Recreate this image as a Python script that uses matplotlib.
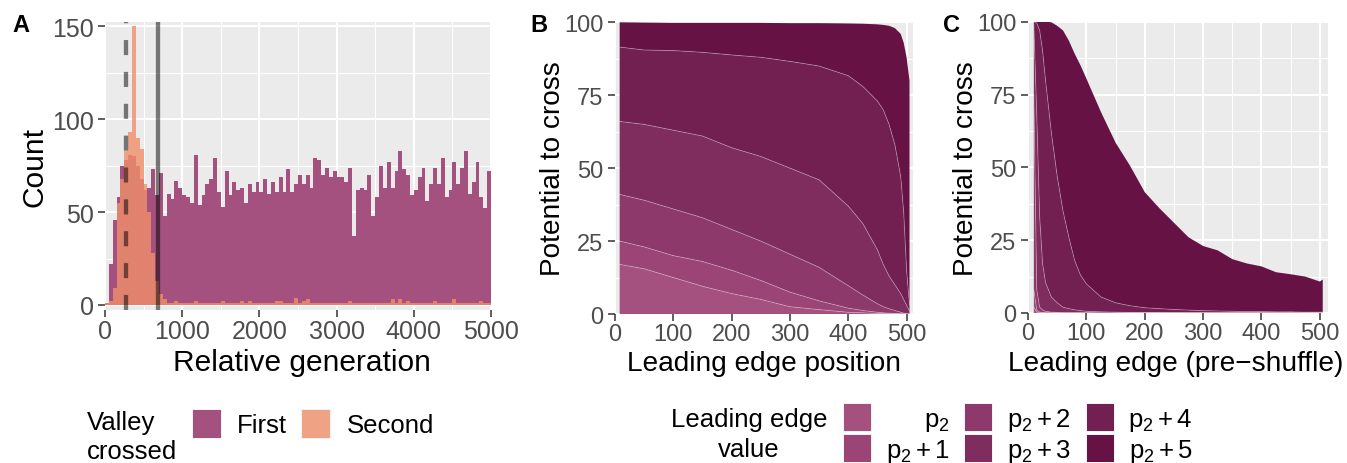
import numpy as np
import matplotlib
matplotlib.use("Agg")
import matplotlib.pyplot as plt
from matplotlib.patches import Rectangle
from matplotlib.ticker import MultipleLocator

plt.rcParams["font.family"] = ["Liberation Sans", "DejaVu Sans"]
plt.rcParams["mathtext.fontset"] = "custom"
plt.rcParams["mathtext.rm"] = "Liberation Sans"
plt.rcParams["mathtext.it"] = "Liberation Sans:italic"
plt.rcParams["mathtext.bf"] = "Liberation Sans:bold"

W, H, DPI = 1347, 464, 100

# ---------------- Panel A: generation at which each valley was crossed ----------------
bin_width = 50
first_counts = [1, 22, 46, 58, 75, 78, 81, 80, 75, 68,
                62, 63, 73, 59, 71, 48, 60, 57, 67, 63,
                59, 58, 55, 81, 54, 59, 65, 68, 79, 61,
                53, 72, 59, 66, 62, 63, 55, 65, 61, 66,
                61, 68, 60, 66, 61, 69, 61, 73, 61, 65,
                70, 65, 70, 63, 79, 78, 70, 74, 69, 72,
                69, 69, 66, 74, 37, 62, 63, 62, 70, 48,
                58, 75, 63, 77, 63, 72, 83, 73, 70, 59,
                62, 69, 74, 56, 65, 74, 65, 79, 58, 62,
                77, 65, 74, 83, 60, 66, 77, 58, 52, 72]
second_counts = [1, 2, 9, 55, 68, 83, 93, 150, 90, 84,
                 65, 50, 28, 13, 6, 3, 1, 1, 2, 1,
                 1, 1, 1, 2, 1, 1, 1, 1, 1, 1,
                 2, 1, 1, 1, 1, 2, 1, 2, 1, 1,
                 1, 1, 1, 1, 2, 2, 1, 1, 1, 4,
                 1, 2, 3, 1, 1, 1, 1, 1, 1, 1,
                 1, 1, 1, 2, 1, 1, 1, 1, 1, 1,
                 1, 1, 1, 1, 3, 1, 3, 1, 2, 1,
                 1, 1, 1, 1, 1, 2, 1, 1, 1, 1,
                 3, 1, 1, 1, 1, 1, 1, 2, 1, 1]
dashed_gen = 275
solid_gen = 690
valley_labels = ["First", "Second"]

# ---------------- Panel B: potential to cross vs leading edge position ----------------
b_x = [8, 50, 100, 150, 200, 250, 300, 350, 400, 425, 450, 460, 470, 480, 490, 495, 500, 505]
b_p2 = [17, 15.5, 12.5, 9.5, 7, 5, 2.5, 1.5, 0.6, 0.4, 0.2, 0.15, 0.1, 0.1, 0, 0, 0, 0]
b_p2_1 = [8, 7.5, 7.5, 8.5, 8, 6.5, 5, 3, 1.4, 0.8, 0.4, 0.25, 0.2, 0.1, 0.1, 0.1, 0, 0]
b_p2_2 = [16, 16, 16, 15, 14, 13.5, 13, 11.5, 7.7, 5.3, 2.9, 2.1, 1.5, 1.0, 0.5, 0.2, 0.1, 0]
b_p2_3 = [25, 26, 27, 28, 28, 29, 29.5, 30, 27.3, 24.5, 18.5, 14.5, 11.2, 8.8, 6.4, 4.7, 2.9, 1]
b_p2_4 = [25.5, 25.5, 27.3, 28.7, 31.8, 34, 36.6, 39, 44.7, 47, 51, 53, 52, 48, 40, 30, 12, 2]
b_p2_5 = [8.5, 9.4, 9.5, 10.1, 11, 11.8, 13.1, 14.7, 17.9, 21.5, 26.3, 29.1, 33.8, 40, 49, 58, 73, 77]

# ---------------- Panel C: potential to cross vs leading edge (pre-shuffle) ----------------
c_x = [10, 15, 20, 25, 30, 40, 50, 60, 70, 80, 90, 100, 125, 150, 175, 200, 225,
       250, 275, 300, 325, 350, 375, 400, 425, 450, 475, 500, 505]
c_p2 = [2, 0.3, 0.1, 0.1, 0.05] + [0] * 24
c_p2_1 = [6, 0.7, 0.2, 0.1, 0.05, 0.1, 0.05] + [0] * 22
c_p2_2 = [67, 7, 1.7, 0.8, 0.5, 0.2, 0.15, 0.1, 0.1, 0.1, 0.1, 0.1] + [0] * 17
c_p2_3 = [24, 60, 31, 16, 9.9, 5.2, 3.3, 1.9, 1.4, 1.0, 0.7, 0.5, 0.4, 0.3, 0.2,
          0.15, 0.15, 0.1, 0.1, 0.1, 0.1, 0.1, 0.1, 0.1, 0.1, 0.1, 0.1, 0.1, 0.1]
c_p2_4 = [1, 31.5, 64, 73, 69.5, 56.5, 43.5, 33, 24.5, 16.9, 12.2, 9.4, 5.1, 3.2, 2.3,
          1.65, 1.35, 1.1, 0.9, 0.7, 0.6, 0.5, 0.4, 0.4, 0.3, 0.3, 0.2, 0.2, 0.2]
c_p2_5 = [0, 0.5, 3, 10, 20, 37.8, 51.6, 62, 67.5, 71, 72, 70.5, 63.5, 55, 48, 39.7,
          34.5, 29.8, 25, 22.2, 20.8, 17.9, 16.5, 15.5, 13.6, 12.9, 12.2, 10.5, 11.2]

edge_labels = [r"$\mathrm{p}_2$", r"$\mathrm{p}_2 + 1$", r"$\mathrm{p}_2 + 2$",
               r"$\mathrm{p}_2 + 3$", r"$\mathrm{p}_2 + 4$", r"$\mathrm{p}_2 + 5$"]

first_col = "#A5517F"
second_col = "#F08F69"
layer_cols = ["#A5517F", "#9A4576", "#8D396B", "#7F2C5F", "#721F52", "#661244"]

LEG_FS = 18.5

fig = plt.figure(figsize=(W / DPI, H / DPI), dpi=DPI)


def axes_px(left, top, right, bottom):
    return fig.add_axes([left / W, 1 - bottom / H, (right - left) / W, (bottom - top) / H])


def fx(x):
    return x / W


def fy(y):
    return 1 - y / H


def style(ax, xminor, yminor, tick_fs):
    ax.set_facecolor("#EBEBEB")
    for s in ax.spines.values():
        s.set_visible(False)
    ax.xaxis.set_minor_locator(MultipleLocator(xminor))
    ax.yaxis.set_minor_locator(MultipleLocator(yminor))
    ax.grid(True, which="major", color="white", lw=1.5)
    ax.grid(True, which="minor", color="white", lw=0.75)
    ax.set_axisbelow(True)
    ax.tick_params(which="major", length=4.7, width=1.1, color="#333333",
                   labelcolor="#4D4D4D", labelsize=tick_fs)
    ax.tick_params(axis="x", which="major", pad=1.5)
    ax.tick_params(axis="y", which="major", pad=3.5)
    ax.tick_params(which="minor", length=0)


def axis_titles(ax, xlabel, ylabel, fs, left, top, right, bottom, ybase_x, xbase_y=371, xcenter=None):
    w = right - left
    h = bottom - top
    ax.set_xlabel(xlabel, fontsize=fs, va="baseline", color="black")
    xc = 0.5 if xcenter is None else (xcenter - left) / w
    ax.xaxis.set_label_coords(xc, (bottom - xbase_y) / h)
    ax.set_ylabel(ylabel, fontsize=fs, va="baseline", color="black")
    ax.yaxis.set_label_coords((ybase_x - left) / w, 0.5)


# ---- Panel A ----
A = (105, 22.7, 491, 311)
axA = axes_px(*A)
style(axA, 500, 25, 18)
edges = np.arange(len(first_counts) + 1) * bin_width
axA.stairs(first_counts, edges, fill=True, color=first_col, lw=0, zorder=2)
axA.stairs(second_counts, edges, fill=True, color=second_col, alpha=0.8, lw=0, zorder=3)
axA.axvline(dashed_gen, color="black", alpha=0.5, lw=3.1, ls=(0, (3.5, 3.9)), zorder=4)
axA.axvline(solid_gen, color="black", alpha=0.5, lw=3.1, zorder=4)
axA.set_xlim(0, 5000)
axA.set_ylim(-2.7, 152.5)
axA.set_xticks(np.arange(0, 5001, 1000))
axA.set_yticks([0, 50, 100, 150])
axis_titles(axA, "Relative generation", "Count", 21.5, *A, ybase_x=42, xcenter=302)

# ---- Panel B ----
B = (615, 22.7, 913, 315)
axB = axes_px(*B)
style(axB, 50, 12.5, 17)
b_layers = [b_p2, b_p2_1, b_p2_2, b_p2_3, b_p2_4, b_p2_5]
axB.stackplot(b_x, *b_layers, colors=layer_cols, lw=0, zorder=2)
b_cum = np.cumsum(np.array(b_layers), axis=0)
for row in b_cum[:-1]:
    axB.plot(b_x, row, color="white", alpha=0.35, lw=0.6, zorder=3)
axB.set_xlim(0, 511)
axB.set_ylim(0, 100.2)
axB.set_xticks(np.arange(0, 501, 100))
axB.set_yticks([0, 25, 50, 75, 100])
axis_titles(axB, "Leading edge position", "Potential to cross", 20.2, *B, ybase_x=560)

# ---- Panel C ----
C = (1028, 22.7, 1328, 314)
axC = axes_px(*C)
style(axC, 50, 12.5, 17)
c_layers = [c_p2, c_p2_1, c_p2_2, c_p2_3, c_p2_4, c_p2_5]
axC.stackplot(c_x, *c_layers, colors=layer_cols, lw=0, zorder=2)
c_cum = np.cumsum(np.array(c_layers), axis=0)
for row in c_cum[:-1]:
    axC.plot(c_x, row, color="white", alpha=0.35, lw=0.6, zorder=3)
axC.set_xlim(0, 514)
axC.set_ylim(0, 100)
axC.set_xticks(np.arange(0, 501, 100))
axC.set_yticks([0, 25, 50, 75, 100])
axis_titles(axC, "Leading edge (pre\u2212shuffle)", "Potential to cross", 20.2, *C,
            ybase_x=973, xcenter=1176)

# ---- Panel tags ----
for tag, x in [("A", 12.7), ("B", 530), ("C", 943)]:
    fig.text(fx(x), fy(31.7), tag, fontsize=17, fontweight="bold", ha="left", va="baseline")


# ---- Legends ----
def key(x, y, size, color, alpha=1.0):
    fig.add_artist(Rectangle((fx(x), fy(y + size)), size / W, size / H,
                             transform=fig.transFigure, facecolor="#F2F2F2",
                             edgecolor="none"))
    fig.add_artist(Rectangle((fx(x + 1), fy(y + size - 1)), (size - 2) / W, (size - 2) / H,
                             transform=fig.transFigure, facecolor=color, alpha=alpha,
                             edgecolor="none"))


# Valley crossed
fig.text(fx(87), fy(430), "Valley", fontsize=LEG_FS, ha="left", va="baseline")
fig.text(fx(87), fy(459), "crossed", fontsize=LEG_FS, ha="left", va="baseline")
key(191.7, 410, 30, first_col)
key(301, 410, 30, second_col, alpha=0.8)
fig.text(fx(237), fy(433), valley_labels[0], fontsize=LEG_FS, ha="left", va="baseline")
fig.text(fx(346.5), fy(433), valley_labels[1], fontsize=LEG_FS, ha="left", va="baseline")

# Leading edge value
fig.text(fx(749), fy(427), "Leading edge", fontsize=LEG_FS, ha="center", va="baseline")
fig.text(fx(749), fy(457), "value", fontsize=LEG_FS, ha="center", va="baseline")
key_cols_x = [843, 964, 1086]
label_right = [950, 1071, 1193]
row_top = [404, 435]
for i, lab in enumerate(edge_labels):
    col, row = divmod(i, 2)
    key(key_cols_x[col], row_top[row], 29, layer_cols[i])
    fig.text(fx(label_right[col]), fy(row_top[row] + 23.5), lab, fontsize=LEG_FS,
             ha="right", va="baseline")

fig.savefig("out.png", dpi=DPI)
